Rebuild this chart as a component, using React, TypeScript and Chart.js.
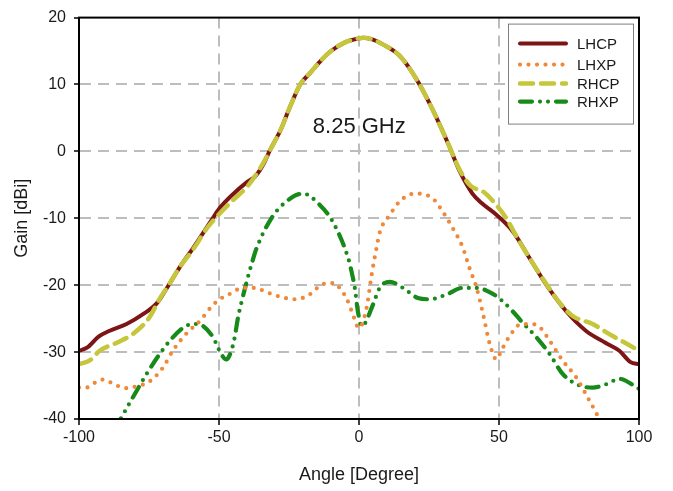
import React, { useEffect, useRef } from "react";
import { Chart, registerables } from "chart.js";

Chart.register(...registerables);

// ---- data ----
const lhcpAngle = [-100, -97, -93, -89, -83, -77, -72, -68, -64, -59, -53, -50, -45, -40, -37, -34, -32, -28, -25, -21, -17.5, -14, -10, -5, 0, 1.5, 5, 8.5, 14.5, 20.5, 26, 32, 36, 40.5, 44, 48, 55, 61, 67, 74, 81, 88, 93, 97, 100];
const lhcpGain = [-29.8, -29.3, -27.7, -26.8, -25.8, -24.3, -22.6, -20, -17.3, -14.3, -10.5, -8.6, -6.4, -4.6, -3.7, -1.8, 0, 3.2, 6.3, 10, 11.7, 13.4, 15, 16.3, 16.9, 17, 16.7, 16, 14.3, 10.8, 6.5, 1, -3, -6.3, -7.8, -9.1, -12, -16, -20, -23.9, -26.8, -28.6, -29.8, -31.5, -31.8];

const rhcpAngle = [-100, -96, -92.6, -86.5, -80.8, -75, -71, -68, -64, -59, -54, -50, -45, -40, -36.5, -34, -32, -28, -25, -21, -17.5, -14, -10, -5, 0, 1.5, 5, 8.5, 14.5, 20.5, 26, 32, 36, 40, 44.3, 48, 52.6, 57, 61, 67, 72, 76.3, 83.4, 90.6, 95, 100];
const rhcpGain = [-31.8, -31.2, -29.8, -28.6, -27.3, -24.9, -21.9, -20, -17.3, -14.5, -11.3, -9.4, -7.3, -5.3, -3.3, -1.6, 0, 3.2, 6.3, 10, 11.7, 13.4, 15, 16.3, 16.9, 17, 16.7, 16, 14.3, 10.8, 6.5, 1, -2.8, -5.2, -6.0, -7.5, -10, -13.3, -16, -19.9, -22.8, -24.6, -25.8, -27.6, -28.6, -29.8];

const lhxpAngle = [-100, -97.4, -94, -91.5, -86.5, -83, -79.4, -74.8, -70, -66.5, -61.8, -56.3, -53.9, -51.5, -48.6, -45.6, -42.6, -39.6, -37.2, -34.3, -31.3, -28.3, -23, -20, -17, -14.6, -11.6, -8.7, -6.3, -4.5, -2.5, 0, 2.7, 4.5, 6, 7.5, 11, 14.5, 19.9, 22.8, 26.3, 29.9, 33.5, 37, 39.5, 42, 44.3, 46.7, 49.1, 50.8, 53.8, 58, 61.7, 64.6, 68.1, 72.8, 77.6, 81.7, 85.2, 88];
const lhxpGain = [-35.3, -35.3, -34.5, -34.1, -35, -35.4, -35.1, -34.4, -32.3, -29.8, -27.3, -25.1, -23.8, -22.7, -21.8, -21.2, -20.5, -20.4, -20.4, -20.8, -21.3, -21.7, -22.1, -21.9, -21.2, -20.3, -19.7, -19.7, -20.8, -21.9, -24, -26.4, -23.4, -18.5, -15, -12, -9.5, -7.5, -6.3, -6.4, -7, -9, -11.5, -14.3, -17.5, -20.4, -24.3, -28.8, -31.1, -29.8, -27.6, -25.8, -25.8, -26.3, -28.3, -31.3, -33.8, -36.8, -39.5, -42];

const rhxpAngle = [-87, -85.4, -80.8, -75.9, -71.2, -66.5, -61.8, -58.2, -55.7, -52.1, -50.4, -49.2, -47.4, -45.6, -44.4, -43.2, -42, -40.2, -38.4, -36.6, -31.3, -26, -20, -14, -9.4, -3.9, -2.7, -1.5, -0.4, 0.9, 2, 5, 7.4, 11, 15.7, 21, 25.2, 31.2, 37, 42, 47.8, 51.3, 54.9, 58, 63.4, 68.1, 72.8, 78.8, 83.4, 88.3, 93, 100];
const rhxpGain = [-41.5, -40.2, -36.8, -33.3, -30.3, -27.8, -26.1, -25.8, -26.1, -27.8, -29.3, -30.3, -31.1, -29.8, -27.8, -24.8, -22.6, -19.6, -16.9, -14.5, -10, -7.5, -6.3, -8, -10.5, -15.9, -17.9, -20.4, -23.9, -26.1, -25.8, -22.9, -20.4, -19.5, -20.4, -21.9, -22.1, -21.4, -20.4, -20.4, -21.3, -22.4, -23.9, -25.4, -27.8, -30.3, -33.3, -35, -35.3, -34.8, -34, -35.5];

const seriesNames = ["LHCP", "LHXP", "RHCP", "RHXP"];
const xTitle = "Angle [Degree]";
const yTitle = "Gain [dBi]";
const annotationText = "8.25 GHz";
const annotationAt = { angle: -16.5, gain: 3.6 };

const FONT = '"Liberation Sans", Arial, sans-serif';

const styles = [
  { color: "#7d1416", width: 4, dash: [] as number[], cap: "round" as CanvasLineCap },
  { color: "#f0883a", width: 4.2, dash: [0, 8.5], cap: "round" as CanvasLineCap },
  { color: "#c6c63c", width: 4.5, dash: [13, 8], cap: "round" as CanvasLineCap },
  { color: "#188a1a", width: 4.2, dash: [12, 8, 0, 8, 0, 8], cap: "round" as CanvasLineCap },
];

const pts = (a: number[], g: number[]) => a.map((x, i) => ({ x, y: g[i] }));

const overlayPlugin = {
  id: "overlay",
  afterDatasetsDraw(chart: any) {
    const { ctx, chartArea: a, scales } = chart;
    ctx.save();
    // frame
    ctx.setLineDash([]);
    ctx.strokeStyle = "#000";
    ctx.lineWidth = 2;
    ctx.strokeRect(a.left, a.top, a.right - a.left, a.bottom - a.top);

    // annotation
    ctx.font = `22px ${FONT}`;
    ctx.fillStyle = "#1a1a1a";
    ctx.textAlign = "left";
    ctx.textBaseline = "middle";
    ctx.fillText(
      annotationText,
      scales.x.getPixelForValue(annotationAt.angle),
      scales.y.getPixelForValue(annotationAt.gain)
    );

    // legend
    const bw = 125, bh = 100;
    const bx = a.right - 6 - bw;
    const by = a.top + 6;
    ctx.fillStyle = "#fff";
    ctx.fillRect(bx, by, bw, bh);
    ctx.strokeStyle = "#7f7f7f";
    ctx.lineWidth = 1;
    ctx.strokeRect(bx + 0.5, by + 0.5, bw, bh);
    const rows = [20, 41, 60, 78];
    ctx.font = `15px ${FONT}`;
    seriesNames.forEach((name, i) => {
      const s = styles[i];
      const y = by + rows[i];
      ctx.beginPath();
      ctx.strokeStyle = s.color;
      ctx.lineWidth = s.width;
      ctx.lineCap = s.cap;
      ctx.setLineDash(s.dash);
      ctx.moveTo(bx + 12, y);
      ctx.lineTo(bx + 58, y);
      ctx.stroke();
      ctx.setLineDash([]);
      ctx.fillStyle = "#1a1a1a";
      ctx.textAlign = "left";
      ctx.textBaseline = "middle";
      ctx.fillText(name, bx + 69, y + 1);
    });
    ctx.restore();
  },
};

export default function App() {
  const ref = useRef<HTMLCanvasElement | null>(null);
  useEffect(() => {
    if (!ref.current) return;
    const series = [
      pts(lhcpAngle, lhcpGain),
      pts(lhxpAngle, lhxpGain),
      pts(rhcpAngle, rhcpGain),
      pts(rhxpAngle, rhxpGain),
    ];
    const orders = [4, 2, 1, 3];
    const chart = new Chart(ref.current, {
      type: "line",
      data: {
        datasets: seriesNames.map((name, i) => ({
          label: name,
          data: series[i],
          borderColor: styles[i].color,
          backgroundColor: styles[i].color,
          borderWidth: styles[i].width,
          borderDash: styles[i].dash,
          borderCapStyle: styles[i].cap,
          borderJoinStyle: "round",
          pointRadius: 0,
          pointHoverRadius: 0,
          cubicInterpolationMode: "monotone",
          fill: false,
          order: orders[i],
        })),
      },
      options: {
        responsive: false,
        animation: false,
        devicePixelRatio: 1,
        layout: { padding: { top: 16, right: 34, left: 0, bottom: 0 } },
        plugins: { legend: { display: false }, tooltip: { enabled: false } },
        events: [],
        scales: {
          x: {
            type: "linear",
            min: -100,
            max: 100,
            afterFit: (s: any) => { s.height = 72; },
            ticks: { stepSize: 50, color: "#1a1a1a", font: { family: FONT, size: 16 }, padding: 3, maxRotation: 0 },
            grid: {
              color: (c: any) => (c.tick && (c.tick.value === -100 || c.tick.value === 100) ? "rgba(0,0,0,0)" : "#bdbdbd"),
              lineWidth: 2,
              tickLength: 6,
              tickColor: "#000",
              tickWidth: 1.5,
              tickBorderDash: [],
            },
            border: { display: true, color: "#000", width: 2, dash: [11, 7] },
            title: { display: true, text: xTitle, color: "#1a1a1a", font: { family: FONT, size: 18 }, padding: { top: 0, bottom: 5 } },
          },
          y: {
            type: "linear",
            min: -40,
            max: 20,
            afterFit: (s: any) => { s.width = 79; },
            ticks: { stepSize: 10, color: "#1a1a1a", font: { family: FONT, size: 16 }, padding: 8 },
            grid: {
              color: (c: any) => (c.tick && (c.tick.value === -40 || c.tick.value === 20) ? "rgba(0,0,0,0)" : "#bdbdbd"),
              lineWidth: 2,
              tickLength: 5,
              tickColor: "#000",
              tickWidth: 1.5,
              tickBorderDash: [],
            },
            border: { display: true, color: "#000", width: 2, dash: [11, 7] },
            title: { display: true, text: yTitle, color: "#1a1a1a", font: { family: FONT, size: 18 }, padding: { top: 11, bottom: 0 } },
          },
        },
      },
      plugins: [overlayPlugin],
    } as any);
    return () => chart.destroy();
  }, []);
  return (
    <div style={{ position: "fixed", left: 0, top: 0, width: 673, height: 491, background: "#fff" }}>
      <canvas ref={ref} width={673} height={491} style={{ display: "block" }} />
    </div>
  );
}
